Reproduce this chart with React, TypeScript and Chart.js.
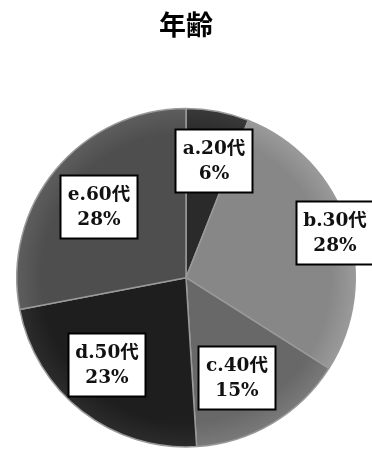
import React, { useEffect, useRef } from "react";
import { Chart, registerables } from "chart.js";

Chart.register(...registerables);

const TITLE = "年齢";
const CATEGORIES = ["a.20代", "b.30代", "c.40代", "d.50代", "e.60代"];
const PERCENTS = [6, 28, 15, 23, 28];
const SLICE_COLORS = ["#2a2a2a", "#878787", "#686868", "#1e1e1e", "#4e4e4e"];
const RIM_COLORS = ["#3a3a3a", "#9a9a9a", "#7a7a7a", "#2c2c2c", "#5e5e5e"];
// label box placement: radius fraction and angular shift (degrees) from slice middle
const LABEL_RADIUS = [0.71, 0.92, 0.665, 0.695, 0.663];
const LABEL_ANGLE_SHIFT = [2.5, 1.5, 3.5, 4.5, -0.5];

const labelBoxes = {
  id: "labelBoxes",
  afterDatasetsDraw(chart: any) {
    const ctx = chart.ctx;
    const meta = chart.getDatasetMeta(0);
    ctx.save();
    meta.data.forEach((arc: any, i: number) => {
      const mid = (arc.startAngle + arc.endAngle) / 2 + (LABEL_ANGLE_SHIFT[i] * Math.PI) / 180;
      const r = arc.outerRadius * LABEL_RADIUS[i];
      const cx = Math.round(arc.x + Math.cos(mid) * r);
      const cy = Math.round(arc.y + Math.sin(mid) * r);
      const w = 77;
      const h = 63;
      ctx.fillStyle = "#ffffff";
      ctx.fillRect(cx - w / 2, cy - h / 2, w, h);
      ctx.strokeStyle = "#000000";
      ctx.lineWidth = 2;
      ctx.strokeRect(cx - w / 2, cy - h / 2, w, h);
      ctx.fillStyle = "#111111";
      ctx.font = 'bold 18.5px "DejaVu Serif", "Noto Sans CJK JP", serif';
      ctx.textAlign = "center";
      ctx.textBaseline = "middle";
      ctx.fillText(CATEGORIES[i], cx, cy - 12);
      ctx.fillText(PERCENTS[i] + "%", cx, cy + 13);
    });
    ctx.restore();
  },
};

export default function App() {
  const ref = useRef<HTMLCanvasElement | null>(null);
  useEffect(() => {
    if (!ref.current) return;
    const chart = new Chart(ref.current, {
      type: "pie",
      data: {
        labels: CATEGORIES,
        datasets: [
          {
            data: PERCENTS,
            backgroundColor: (c: any) => {
              const ch = c.chart;
              const a = ch.chartArea;
              const i = c.dataIndex;
              if (!a) return SLICE_COLORS[i];
              const x = (a.left + a.right) / 2;
              const y = (a.top + a.bottom) / 2;
              const rad = Math.min(a.right - a.left, a.bottom - a.top) / 2;
              const g = ch.ctx.createRadialGradient(x, y, 0, x, y, rad);
              g.addColorStop(0, SLICE_COLORS[i]);
              g.addColorStop(0.85, SLICE_COLORS[i]);
              g.addColorStop(1, RIM_COLORS[i]);
              return g;
            },
            borderColor: "#9a9a9a",
            borderWidth: 1.5,
          },
        ],
      },
      options: {
        animation: false,
        responsive: false,
        maintainAspectRatio: false,
        layout: { padding: { left: 16, right: 16, top: 0, bottom: 2 } },
        plugins: {
          legend: { display: false },
          tooltip: { enabled: false },
          title: {
            display: true,
            text: TITLE,
            color: "#000000",
            font: { family: '"Noto Sans CJK JP", sans-serif', size: 27, weight: "bold", lineHeight: 1.2 },
            padding: { top: 9, bottom: 66 },
          },
        },
      },
      plugins: [labelBoxes],
    });
    return () => chart.destroy();
  }, []);
  return (
    <div style={{ position: "absolute", left: 0, top: 0, width: 372, height: 450, background: "#ffffff" }}>
      <canvas ref={ref} width={372} height={450} />
    </div>
  );
}
